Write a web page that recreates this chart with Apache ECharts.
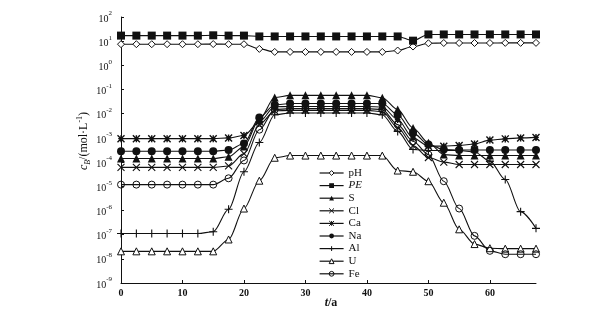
<!DOCTYPE html>
<html><head><meta charset="utf-8">
<script src="https://cdn.jsdelivr.net/npm/echarts@6/dist/echarts.min.js"></script>
<style>html,body{margin:0;padding:0;background:#fff}#c{width:611px;height:314px}</style>
</head><body><div id="c"></div>
<script>
var tYears = [0,2.5,5,7.5,10,12.5,15,17.5,20,22.5,25,27.5,30,32.5,35,37.5,40,42.5,45,47.5,50,52.5,55,57.5,60,62.5,65,67.5];
var xTicks = [0,10,20,30,40,50,60];
var seriesNames = ['pH','PE','S','Cl','Ca','Na','Al','U','Fe'];

var pH = [7.5,7.5,7.5,7.5,7.5,7.5,7.6,7.5,7.5,4.8,3.6,3.6,3.6,3.6,3.6,3.6,3.6,3.6,4.1,6.0,8.2,8.4,8.4,8.4,8.4,8.5,8.5,8.5];
var PE = [17,17,17,17,17,17,17.5,17,17,15.7,15.7,15.7,15.7,15.7,15.7,15.7,15.7,15.7,15.7,10.5,19,19,19,19,19,19,19,19];
var S  = [1.41e-4,1.41e-4,1.41e-4,1.41e-4,1.41e-4,1.41e-4,1.41e-4,1.66e-4,4.37e-4,5.75e-3,0.0468,0.0575,0.0575,0.0575,0.0575,0.0575,0.0575,0.0457,0.0148,2.57e-3,6.31e-4,2.04e-4,1.86e-4,1.86e-4,1.86e-4,1.86e-4,1.86e-4,1.86e-4];
var Cl = [6.03e-5,6.03e-5,6.03e-5,6.03e-5,6.03e-5,6.03e-5,6.03e-5,6.92e-5,2.24e-4,3.55e-3,0.0132,0.0138,0.0138,0.0138,0.0138,0.0138,0.0138,0.0123,2.69e-3,4.79e-4,1.55e-4,1.0e-4,7.94e-5,7.94e-5,7.94e-5,7.94e-5,7.94e-5,7.94e-5];
var Ca = [9.33e-4,9.33e-4,9.33e-4,9.33e-4,9.33e-4,9.33e-4,9.33e-4,1.0e-3,1.26e-3,4.68e-3,0.0195,0.02,0.02,0.02,0.02,0.02,0.02,0.019,5.75e-3,1.0e-3,4.57e-4,4.57e-4,4.9e-4,5.62e-4,8.13e-4,9.12e-4,1.0e-3,1.05e-3];
var Na = [2.82e-4,2.82e-4,2.82e-4,2.82e-4,2.82e-4,2.82e-4,2.82e-4,3.16e-4,5.89e-4,6.92e-3,0.0234,0.0263,0.0263,0.0263,0.0263,0.0263,0.0263,0.0263,9.12e-3,1.62e-3,5.37e-4,3.31e-4,3.16e-4,3.16e-4,3.16e-4,3.16e-4,3.16e-4,3.16e-4];
var Al = [1.12e-7,1.12e-7,1.12e-7,1.12e-7,1.12e-7,1.12e-7,1.32e-7,1.12e-6,3.98e-5,6.46e-4,9.12e-3,0.0107,0.0107,0.0107,0.0107,0.0107,0.0107,9.12e-3,1.86e-3,3.31e-4,3.02e-4,3.02e-4,3.02e-4,2.63e-4,1.1e-4,1.91e-5,8.91e-7,1.82e-7];
var U  = [2.04e-8,2.04e-8,2.04e-8,2.04e-8,2.04e-8,2.04e-8,2.04e-8,6.31e-8,1.2e-6,1.7e-5,1.51e-4,1.86e-4,1.86e-4,1.86e-4,1.86e-4,1.86e-4,1.86e-4,1.86e-4,4.47e-5,3.98e-5,1.62e-5,2.09e-6,1.66e-7,4.07e-8,2.75e-8,2.63e-8,2.63e-8,2.63e-8];
var Fe = [1.17e-5,1.17e-5,1.17e-5,1.17e-5,1.17e-5,1.17e-5,1.17e-5,2.14e-5,1.17e-4,2.19e-3,0.0148,0.0162,0.0162,0.0162,0.0162,0.0162,0.0162,0.0148,3.55e-3,7.24e-4,2.04e-4,1.62e-5,1.2e-6,8.9e-8,2.14e-8,1.55e-8,1.55e-8,1.55e-8];

var dataMap = {pH:pH, PE:PE, S:S, Cl:Cl, Ca:Ca, Na:Na, Al:Al, U:U, Fe:Fe};
var FONT = '"Liberation Serif", "DejaVu Serif", serif';
var K = '#111';
var strokeSym = {color:'none', borderColor:K, borderWidth:1.1};
var styles = {
  pH: {symbol:'diamond', size:7, item:{color:'#fff', borderColor:K, borderWidth:1}},
  PE: {symbol:'rect', size:8, item:{color:K}},
  S:  {symbol:'triangle', size:8, item:{color:K}},
  Cl: {symbol:'path://M0,0L10,10M0,10L10,0', size:7, item:strokeSym},
  Ca: {symbol:'path://M0,0L10,10M0,10L10,0M5,0L5,10M1,5L9,5', size:7, item:{color:'none', borderColor:K, borderWidth:1.4}},
  Na: {symbol:'circle', size:8, item:{color:K}},
  Al: {symbol:'path://M5,0L5,10M0,5L10,5', size:8, item:strokeSym},
  U:  {symbol:'triangle', size:7, item:{color:'#fff', borderColor:K, borderWidth:1}},
  Fe: {symbol:'circle', size:7, item:{color:'rgba(0,0,0,0)', borderColor:K, borderWidth:1}}
};

var series = seriesNames.map(function(n){
  var st = styles[n];
  return {
    name:n, type:'line', smooth:0.3, smoothMonotone:'x',
    data: tYears.map(function(t,i){ return [t, dataMap[n][i]]; }),
    symbol: st.symbol, symbolSize: st.size, showAllSymbol:true,
    lineStyle:{color:K, width:1.1},
    itemStyle: st.item,
    emphasis:{disabled:true}, animation:false
  };
});

var chart = echarts.init(document.getElementById('c'), null, {renderer:'canvas'});
chart.setOption({
  animation:false,
  backgroundColor:'#fff',
  grid:{left:121, right:75, top:17, bottom:31, containLabel:false},
  xAxis:{
    type:'value', min:0, max:67.5,
    axisLine:{show:true, lineStyle:{color:K, width:1}},
    axisTick:{show:true, inside:true, length:3, customValues:xTicks, lineStyle:{color:K}},
    axisLabel:{customValues:xTicks, color:K, fontFamily:FONT, fontSize:10, fontWeight:'bold', margin:5},
    splitLine:{show:false}
  },
  yAxis:{
    type:'log', logBase:10, min:1e-9, max:100, interval:1,
    axisLine:{show:true, lineStyle:{color:K, width:1}},
    axisTick:{show:true, inside:true, length:3, lineStyle:{color:K}},
    axisLabel:{
      color:K, fontFamily:FONT, margin:9,
      formatter:function(v){ var e=Math.round(Math.log10(v)); return '{b|10}{s|'+e+'}'; },
      rich:{b:{fontSize:10, fontFamily:FONT, color:K, lineHeight:14, verticalAlign:'bottom'},
            s:{fontSize:7, fontFamily:FONT, color:K, lineHeight:14, verticalAlign:'top'}}
    },
    splitLine:{show:false}
  },
  legend:{
    orient:'vertical', left:319, top:167, itemWidth:24, itemHeight:6, itemGap:0.6,
    padding:0, itemStyle:{borderWidth:1},
    lineStyle:{width:1.2},
    data:seriesNames,
    textStyle:{color:K, fontFamily:FONT, fontSize:11, lineHeight:12,
      rich:{i:{fontStyle:'italic', fontFamily:FONT, fontSize:11, lineHeight:12, color:K}}},
    formatter:function(n){ return n==='PE' ? '{i|PE}' : n; },
    selectedMode:false
  },
  graphic:[
    {type:'text', x:84, y:141, rotation:Math.PI/2,
     style:{text:'{i|c}{sb|B}{n|/(mol·L}{sp|-1}{n|)}', fontFamily:FONT, fill:K, align:'center', verticalAlign:'middle',
       rich:{i:{fontStyle:'italic', fontSize:12, fontFamily:FONT, fill:K, lineHeight:16, verticalAlign:'middle'},
             sb:{fontStyle:'italic', fontSize:8, fontFamily:FONT, fill:K, lineHeight:16, verticalAlign:'bottom'},
             n:{fontSize:12, fontFamily:FONT, fill:K, lineHeight:16, verticalAlign:'middle'},
             sp:{fontSize:8, fontFamily:FONT, fill:K, lineHeight:16, verticalAlign:'top'}}}},
    {type:'text', x:331, y:303,
     style:{text:'{i|t}{n|/a}', fill:K, align:'center', verticalAlign:'middle',
       rich:{i:{fontStyle:'italic', fontSize:12, fontFamily:FONT, fill:K, fontWeight:'bold'},
             n:{fontSize:12, fontFamily:FONT, fill:K, fontWeight:'bold'}}}}
  ],
  series:series
});
</script></body></html>
